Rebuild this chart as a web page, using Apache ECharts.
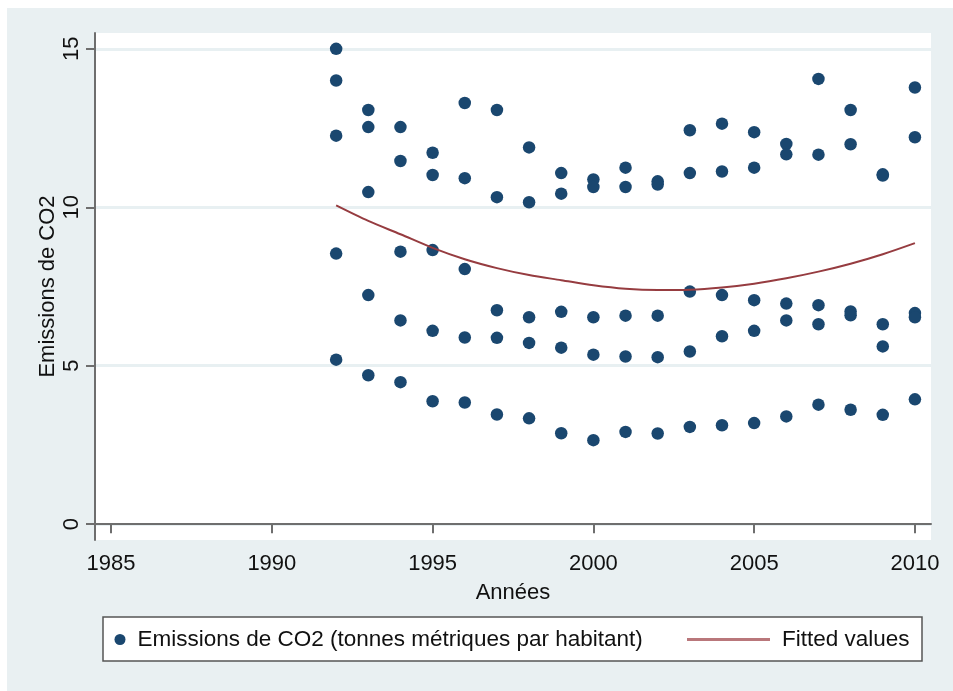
<!DOCTYPE html>
<html>
<head>
<meta charset="utf-8">
<script src="https://cdn.jsdelivr.net/npm/echarts@6/dist/echarts.min.js"></script>
<style>
  html, body { margin: 0; padding: 0; background: #ffffff; width: 953px; height: 691px; overflow: hidden; }
  #chart { position: absolute; left: 7px; top: 8px; width: 946px; height: 683px; }
</style>
</head>
<body>
<div id="chart"></div>
<script>
// Years (x axis)
const years = [1992,1993,1994,1995,1996,1997,1998,1999,2000,2001,2002,2003,2004,2005,2006,2007,2008,2009,2010];
// Emissions read per year, grouped by rank within each year (highest to lowest)
const emRank1 = [15.0,13.07,12.53,11.72,13.29,13.07,11.89,11.08,10.88,11.25,10.82,12.43,12.64,12.37,12.0,14.05,13.07,11.04,13.78];
const emRank2 = [14.0,12.53,11.46,11.02,10.92,10.32,10.16,10.43,10.64,10.64,10.72,11.08,11.13,11.25,11.67,11.66,11.99,11.0,12.21];
const emRank3 = [12.26,10.48,8.6,8.65,8.05,6.75,6.53,6.70,6.53,6.58,6.58,7.34,7.23,7.07,6.96,6.91,6.71,6.31,6.66];
const emRank4 = [8.54,7.23,6.43,6.10,5.89,5.88,5.72,5.57,5.35,5.29,5.27,5.45,5.93,6.10,6.43,6.31,6.59,5.61,6.53];
const emRank5 = [5.19,4.70,4.48,3.88,3.84,3.46,3.34,2.87,2.65,2.91,2.86,3.07,3.12,3.19,3.40,3.77,3.61,3.45,3.94];
// Fitted values (quadratic fit) read per year
const fitted = [10.06,9.57,9.15,8.72,8.36,8.08,7.86,7.70,7.54,7.43,7.39,7.40,7.47,7.59,7.76,7.97,8.22,8.52,8.87];
// Tick labels
const xTicks = [1985,1990,1995,2000,2005,2010];
const yTicks = [0,5,10,15];

const scatterName = 'Emissions de CO2 (tonnes métriques par habitant)';
const lineName = 'Fitted values';

const scatterData = [];
[emRank1, emRank2, emRank3, emRank4, emRank5].forEach(arr => {
  arr.forEach((v, i) => scatterData.push([years[i], v]));
});
const lineData = years.map((y, i) => [y, fitted[i]]);

const FONT = '"Liberation Sans", Arial, Helvetica, sans-serif';
const AXIS_COLOR = '#6e6e6e';
const FS = 22;

const chart = echarts.init(document.getElementById('chart'), null, { renderer: 'canvas' });
chart.setOption({
  backgroundColor: '#e9f0f2',
  animation: false,
  textStyle: { fontFamily: FONT },
  grid: {
    left: 88, top: 25, width: 836, height: 507,
    show: true, backgroundColor: '#ffffff', borderWidth: 0
  },
  xAxis: {
    type: 'value',
    min: 1984.5, max: 2010.5,
    name: 'Années',
    nameLocation: 'middle',
    nameGap: 42,
    nameMoveOverlap: false,
    nameTextStyle: { fontSize: FS, color: '#111', fontFamily: FONT },
    axisLine: { show: true, lineStyle: { color: AXIS_COLOR, width: 2 } },
    axisTick: { show: true, length: 9, lineStyle: { color: AXIS_COLOR, width: 2 }, customValues: xTicks },
    axisLabel: { fontSize: FS, color: '#111', margin: 13, fontFamily: FONT, customValues: xTicks,
                 formatter: v => String(v) },
    splitLine: { show: false }
  },
  yAxis: {
    type: 'value',
    min: -0.5, max: 15.5,
    name: 'Emissions de CO2',
    nameLocation: 'middle',
    nameGap: 36,
    nameMoveOverlap: false,
    nameTextStyle: { fontSize: FS, color: '#111', fontFamily: FONT },
    axisLine: { show: true, lineStyle: { color: AXIS_COLOR, width: 2 } },
    axisTick: { show: true, length: 9, lineStyle: { color: AXIS_COLOR, width: 2 }, customValues: yTicks },
    axisLabel: { fontSize: FS, color: '#111', margin: 12, rotate: 90, fontFamily: FONT, customValues: yTicks,
                 formatter: v => String(v) },
    splitLine: { show: true, lineStyle: { color: '#e8f0f2', width: 3 } }
  },
  graphic: [{
    type: 'rect',
    shape: { x: 96, y: 609, width: 819, height: 44 },
    style: { fill: '#ffffff', stroke: '#555555', lineWidth: 1.5 },
    z: 1
  }],
  legend: [
    {
      data: [{ name: scatterName, icon: 'circle' }],
      left: 107.5, top: 620, padding: 0,
      itemWidth: 11, itemHeight: 11,
      itemStyle: { color: '#1a476f' },
      textStyle: { fontSize: 22.5, color: '#111', fontFamily: FONT, padding: [0, 0, 0, 7] },
      z: 5
    },
    {
      data: [{ name: lineName, icon: 'rect' }],
      left: 680, top: 620, padding: 0,
      itemWidth: 83, itemHeight: 3,
      symbolKeepAspect: false,
      itemStyle: { color: '#b9777b' },
      textStyle: { fontSize: 22.5, color: '#111', fontFamily: FONT, padding: [0, 0, 0, 7] },
      z: 5
    }
  ],
  series: [
    {
      name: scatterName,
      type: 'scatter',
      data: scatterData,
      symbol: 'circle',
      symbolSize: 12.5,
      itemStyle: { color: '#1a476f', opacity: 1 },
      z: 3
    },
    {
      name: lineName,
      type: 'line',
      data: lineData,
      symbol: 'none',
      smooth: 0.3,
      lineStyle: { color: '#963c40', width: 2 },
      itemStyle: { color: '#963c40' },
      z: 4
    }
  ]
});
</script>
</body>
</html>
